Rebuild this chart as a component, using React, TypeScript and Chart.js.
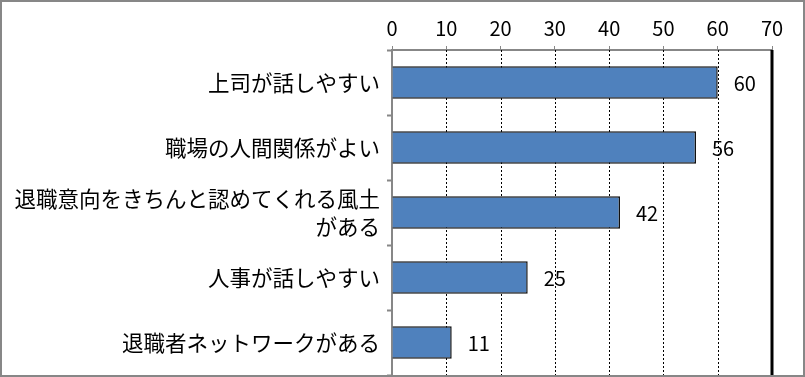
import React, { useEffect, useRef } from "react";
import { Chart, registerables } from "chart.js";

Chart.register(...registerables);

const categories: (string | string[])[] = [
  "上司が話しやすい",
  "職場の人間関係がよい",
  ["退職意向をきちんと認めてくれる風土", "がある"],
  "人事が話しやすい",
  "退職者ネットワークがある",
];
const values: number[] = [60, 56, 42, 25, 11];
const axisMin = 0;
const axisMax = 70;
const axisStep = 10;

const FONT = "'Noto Sans CJK JP', 'Noto Sans', sans-serif";
const GRAY = "#878787";

const frameAndLabels = {
  id: "frameAndLabels",
  beforeDatasetsDraw(chart: any) {
    const ctx = chart.ctx;
    const xs = chart.scales.x;
    const area = chart.chartArea;
    ctx.save();
    for (let v = axisMin + axisStep; v <= axisMax; v += axisStep) {
      const px = Math.round(xs.getPixelForValue(v));
      ctx.beginPath();
      if (v === axisMax) {
        ctx.setLineDash([]);
        ctx.lineWidth = 3;
        ctx.strokeStyle = "#000";
        ctx.moveTo(px, area.top);
        ctx.lineTo(px, area.bottom);
      } else {
        ctx.setLineDash([2, 2]);
        ctx.lineWidth = 1;
        ctx.strokeStyle = "#000";
        ctx.moveTo(px + 0.5, area.top);
        ctx.lineTo(px + 0.5, area.bottom);
      }
      ctx.stroke();
    }
    ctx.restore();
  },
  afterDatasetsDraw(chart: any) {
    const ctx = chart.ctx;
    const meta = chart.getDatasetMeta(0);
    ctx.save();
    ctx.fillStyle = "#000";
    ctx.font = `20px ${FONT}`;
    ctx.textAlign = "left";
    ctx.textBaseline = "middle";
    meta.data.forEach((el: any, i: number) => {
      ctx.fillText(String(values[i]), el.x + 16, el.y + 1);
    });
    ctx.restore();
  },
  afterDraw(chart: any) {
    const ctx = chart.ctx;
    ctx.save();
    ctx.strokeStyle = GRAY;
    ctx.lineWidth = 2;
    ctx.strokeRect(1, 1, chart.width - 2, chart.height - 2);
    ctx.restore();
  },
};

export default function App() {
  const ref = useRef<HTMLCanvasElement | null>(null);
  useEffect(() => {
    if (!ref.current) return;
    const chart = new Chart(ref.current, {
      type: "bar",
      data: {
        labels: categories,
        datasets: [
          {
            data: values,
            backgroundColor: "#4F81BD",
            borderColor: "#111",
            borderWidth: 1.5,
            barPercentage: 0.5,
            categoryPercentage: 1,
          },
        ],
      },
      options: {
        indexAxis: "y",
        responsive: false,
        animation: false,
        layout: { padding: { left: 0, right: 33, top: 0, bottom: 2 } },
        plugins: {
          legend: { display: false },
          tooltip: { enabled: false },
        },
        scales: {
          x: {
            position: "top",
            min: axisMin,
            max: axisMax,
            ticks: {
              stepSize: axisStep,
              color: "#000",
              font: { family: FONT, size: 20 },
              padding: 6,
            },
            grid: {
              drawOnChartArea: false,
              tickColor: GRAY,
              tickLength: 4,
              tickWidth: 1,
            },
            border: { color: GRAY, width: 2 },
            afterFit: (s: any) => {
              s.height = 50;
              s.paddingLeft = 0;
              s.paddingRight = 0;
            },
          } as any,
          y: {
            ticks: {
              color: "#000",
              font: { family: FONT, size: 21.5, lineHeight: 1.3 },
              padding: 7,
            },
            grid: {
              drawOnChartArea: false,
              tickColor: GRAY,
              tickLength: 5,
              tickWidth: 2,
            },
            border: { color: GRAY, width: 2 },
            afterFit: (s: any) => {
              s.width = 392;
              s.paddingTop = 0;
              s.paddingBottom = 0;
            },
          } as any,
        },
      },
      plugins: [frameAndLabels],
    });
    return () => chart.destroy();
  }, []);
  return (
    <div style={{ position: "fixed", left: 0, top: 0, width: 805, height: 377, background: "#fff" }}>
      <canvas ref={ref} width={805} height={377} />
    </div>
  );
}
